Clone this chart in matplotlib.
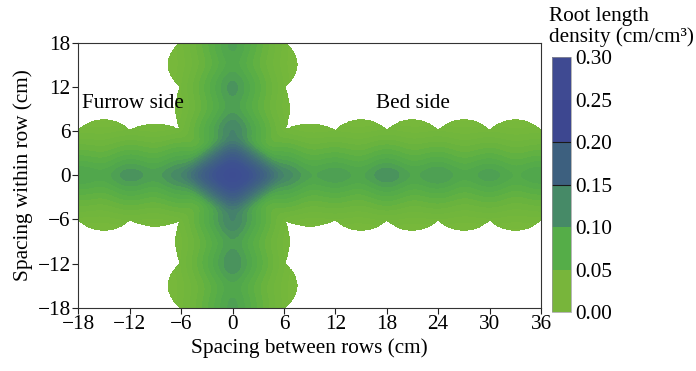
import numpy as np
import matplotlib
matplotlib.use("Agg")
import matplotlib.pyplot as plt
from matplotlib.colors import LinearSegmentedColormap, ListedColormap, BoundaryNorm
from matplotlib.cm import ScalarMappable

plt.rcParams['font.family'] = ['Liberation Serif', 'DejaVu Serif']
plt.rcParams['font.size'] = 15.3
plt.rcParams['axes.unicode_minus'] = True

# ---- data (root length density, cm/cm^3) ----
row_pos = [-18, -12, -6, 0, 6, 12, 18, 24, 30, 36]          # between rows (x)
row_rld = [0.100, 0.115, 0.125, 0.275, 0.125, 0.105, 0.118, 0.108, 0.104, 0.100]
within_pos = [-18, -12, -6, 0, 6, 12, 18]                    # within row (y)
within_rld = [0.104, 0.118, 0.130, 0.275, 0.130, 0.112, 0.104]

# extent of the sampled zone (half-width midway between samples, and at samples)
row_halfwidth = [7.5, 6.9, 6.6, 6.6, 6.9, 7.5, 7.5, 7.5, 7.5]
within_halfwidth = [7.5, 6.6, 6.6, 6.6, 6.6, 7.5]
notch_halfwidth = 6.05

x_ticks = [-18, -12, -6, 0, 6, 12, 18, 24, 30, 36]
y_ticks = [-18, -12, -6, 0, 6, 12, 18]
cbar_bounds = [0.00, 0.05, 0.10, 0.15, 0.20, 0.25, 0.30]
cbar_colors = ['#78b53b', '#55ad48', '#468a67', '#3d607f', '#3d4790', '#3f4a92']

# ---- interpolation of the sampled transects onto a grid ----
def centre_line(s, pos, val, sig=2.4, skip=None):
    v = np.array(val, float)
    if skip is not None:
        v = np.where(np.array(pos) == skip, 0.5 * v, v)
    s = s[..., None]
    return np.sum(v * np.exp(-(s - np.array(pos)) ** 2 / (2 * sig ** 2)), axis=-1)

def half_width(s, pos, bs, n):
    p = np.array(pos, float)
    mids = (p[:-1] + p[1:]) / 2
    half = (p[1:] - p[:-1]) / 2
    bs = np.array(bs, float)
    a = half / np.sqrt(1 - (n / bs) ** 2)
    d = (s[..., None] - mids) / a
    w = bs * np.sqrt(np.clip(1 - d ** 2, 0, None))
    return w.max(axis=-1)

def blur(A, sig_cells):
    r = int(3 * sig_cells)
    k = np.exp(-np.arange(-r, r + 1) ** 2 / (2 * sig_cells ** 2))
    k /= k.sum()
    P = np.pad(A, ((0, 0), (r, r)), mode='edge')
    A = np.apply_along_axis(lambda v: np.convolve(v, k, mode='valid'), 1, P)
    P = np.pad(A, ((r, r), (0, 0)), mode='edge')
    A = np.apply_along_axis(lambda v: np.convolve(v, k, mode='valid'), 0, P)
    return A

def profile(t, p=1.1):
    u = 1 - np.abs(t)
    return np.sign(u) * np.abs(u) ** p

xg = np.linspace(-18, 36, 700)
yg = np.linspace(-18, 18, 480)
X, Y = np.meshgrid(xg, yg)

# transect ridges
ch = centre_line(X, row_pos, row_rld, skip=0)
fh = ch * profile(Y / 8.3)
wh = half_width(X, row_pos, row_halfwidth, notch_halfwidth)

cv = centre_line(Y, within_pos, within_rld, skip=0)
fv = cv * profile(X / 8.2)
wv = half_width(Y, within_pos, within_halfwidth, notch_halfwidth)

# sample at the plant (0, 0)
v0 = row_rld[row_pos.index(0)]
fc = v0 * profile(np.abs(X) / 10.0 + np.abs(Y) / 8.5, 0.8)

F = blur(np.maximum(np.maximum(fh, fv), fc), 8)
inside = (np.abs(Y) <= wh) | (np.abs(X) <= wv)
F = np.where(inside, np.clip(F, 0.0005, None), np.nan)

cmap = LinearSegmentedColormap.from_list('rld', [
    (0.000, '#7cb93a'), (0.167, '#6cb43d'), (0.267, '#56ad47'), (0.333, '#50a54e'),
    (0.400, '#488e62'), (0.500, '#437476'), (0.600, '#3f6282'), (0.733, '#3d5290'),
    (1.000, '#3e4695')])

fig = plt.figure(figsize=(6.96, 3.71), dpi=100)
ax = fig.add_axes([0.1125, 0.1706, 0.6648, 0.7148])
levels = np.linspace(0, 0.30, 31)
cs = ax.contourf(X, Y, F, levels=levels, cmap=cmap, vmin=0, vmax=0.30)
cs.set_edgecolor('face')
cs.set_linewidth(0.4)

ax.set_xlim(-18, 36)
ax.set_ylim(-18, 18)
ax.set_xticks(x_ticks)
ax.set_yticks(y_ticks)
ax.tick_params(direction='out', length=4, width=0.8, pad=1.5, colors='#222222',
               labelcolor='black', top=False, right=False)
for sp in ax.spines.values():
    sp.set_linewidth(0.8)
    sp.set_color('#333333')
    sp.set_zorder(5)
ax.set_xlabel('Spacing between rows (cm)', labelpad=3)
ax.set_ylabel('Spacing within row (cm)', labelpad=3)

ax.text(-17.6, 9.7, 'Furrow side', ha='left', va='center')
ax.text(21.0, 9.7, 'Bed side', ha='center', va='center')

# ---- colorbar ----
cax = fig.add_axes([0.793, 0.159, 0.0269, 0.6873])
sm = ScalarMappable(norm=BoundaryNorm(cbar_bounds, len(cbar_colors)),
                    cmap=ListedColormap(cbar_colors))
cb = fig.colorbar(sm, cax=cax, ticks=cbar_bounds)
cb.ax.set_yticklabels([f'{b:.2f}' for b in cbar_bounds])
cb.ax.tick_params(length=0, pad=3)
cb.outline.set_linewidth(0.5)
cb.outline.set_edgecolor('#999999')
for b in (0.15, 0.20):
    cax.axhline(b, color='#1a1a1a', lw=0.8)

fig.text(549 / 696, 1 - 17 / 371, 'Root length', ha='left', va='center')
fig.text(549 / 696, 1 - 37 / 371, 'density (cm/cm³)', ha='left', va='center')

fig.savefig('out.png', dpi=100)
